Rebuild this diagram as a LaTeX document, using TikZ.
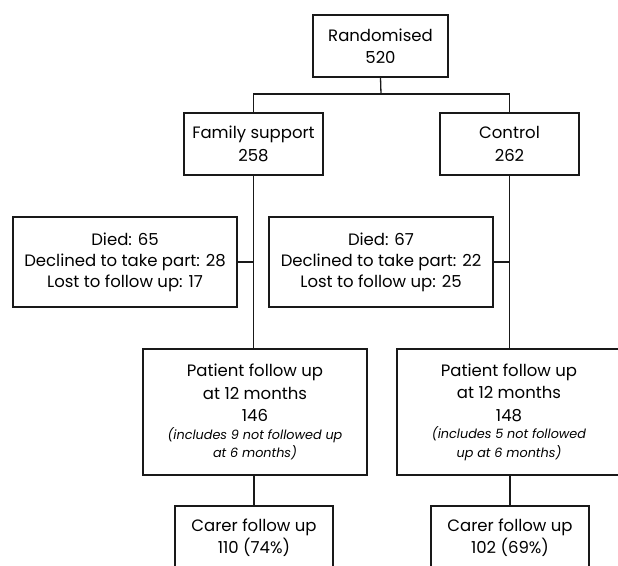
\documentclass[tikz,border=0pt]{standalone}
\usepackage{fontspec}
\setmainfont{Poppins}
\newcommand{\smallnote}{\fontsize{12.8}{18}\selectfont\itshape}
\begin{document}
\begin{tikzpicture}[x=1pt,y=-1pt,
  box/.style={draw=black!90, line width=1.3pt, align=center, inner sep=0pt, font=\fontsize{16.5}{22.5}\selectfont},
  link/.style={draw=black!90, line width=1.3pt}]
\useasboundingbox (0,0) rectangle (618,565);
\clip (0,0) rectangle (618,565);
\node[box, minimum width=135pt, minimum height=62pt] (rand) at (380.5,46) {Randomised\\520};
\node[box, minimum width=139pt, minimum height=62pt] (fam) at (253.5,144) {Family support\\258};
\node[box, minimum width=139pt, minimum height=62pt] (ctrl) at (509.5,144) {Control\\262};
\node[box, minimum width=224pt, minimum height=90pt, font=\fontsize{16.5}{21}\selectfont] (dropL) at (125,262) {Died: 65\\Declined to take part: 28\\Lost to follow up: 17};
\node[box, minimum width=224pt, minimum height=90pt, font=\fontsize{16.5}{21}\selectfont] (dropR) at (381,262) {Died: 67\\Declined to take part: 22\\Lost to follow up: 25};
\node[box, minimum width=224pt, minimum height=126pt] (patL) at (255,412) {Patient follow up\\at 12 months\\146\\[-5pt]{\smallnote (includes 9 not followed up}\\[-4pt]{\smallnote at 6 months)}};
\node[box, minimum width=224pt, minimum height=126pt] (patR) at (509,412) {Patient follow up\\at 12 months\\148\\[-5pt]{\smallnote (includes 5 not followed}\\[-4pt]{\smallnote up at 6 months)}};
\node[box, minimum width=158pt, minimum height=66pt, text depth=6pt] (carL) at (254,539) {Carer follow up\\110 (74\%)};
\node[box, minimum width=158pt, minimum height=66pt, text depth=6pt] (carR) at (510,539) {Carer follow up\\102 (69\%)};
\coordinate (split) at (381,94);
\draw[link] (rand.south) -- (split);
\draw[link] (split) -| (fam.north);
\draw[link] (split) -| (ctrl.north);
\draw[link] (fam.south) -- (fam.south |- patL.north);
\draw[link] (ctrl.south) -- (ctrl.south |- patR.north);
\draw[link] (dropL.east) -- (dropL.east -| fam.south);
\draw[link] (dropR.east) -- (dropR.east -| ctrl.south);
\draw[link] (patL.south -| carL.north) -- (carL.north);
\draw[link] (patR.south -| carR.north) -- (carR.north);
\end{tikzpicture}
\end{document}
